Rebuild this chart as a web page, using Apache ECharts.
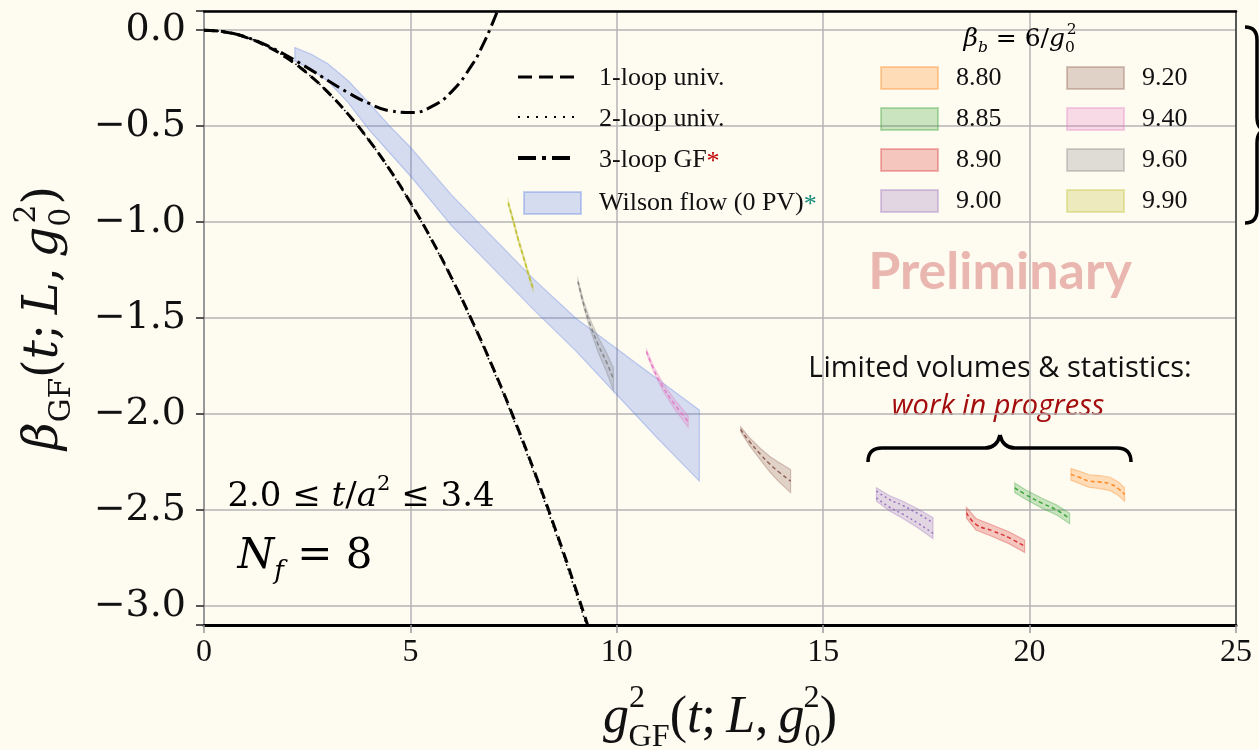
<!DOCTYPE html>
<html><head><meta charset="utf-8">
<script src="https://cdn.jsdelivr.net/npm/echarts@6/dist/echarts.min.js"></script>
<style>html,body{margin:0;padding:0;background:#fefbf1}#c{width:1259px;height:750px}</style>
</head><body><div id="c"></div>
<script>
// ---------- data ----------
const xTicks = [0, 5, 10, 15, 20, 25];
const oneLoop = [[0,0],[0.5,-0.009],[1,-0.036],[1.5,-0.081],[2,-0.144],[2.5,-0.224],[3,-0.323],[3.5,-0.440],[4,-0.574],[4.5,-0.727],[5,-0.898],[5.5,-1.086],[6,-1.292],[6.5,-1.517],[7,-1.759],[7.5,-2.019],[8,-2.298],[8.5,-2.594],[9,-2.908],[9.5,-3.240]];
const twoLoop = [[0,0],[0.5,-0.009],[1,-0.036],[1.5,-0.081],[2,-0.144],[2.5,-0.225],[3,-0.324],[3.5,-0.441],[4,-0.576],[4.5,-0.729],[5,-0.901],[5.5,-1.090],[6,-1.298],[6.5,-1.524],[7,-1.768],[7.5,-2.030],[8,-2.311],[8.5,-2.610],[9,-2.927],[9.5,-3.263]];
const threeLoop = [[0,0],[0.5,-0.009],[1,-0.035],[1.5,-0.077],[2,-0.132],[2.5,-0.195],[3,-0.262],[3.5,-0.327],[4,-0.382],[4.5,-0.420],[5,-0.429],[5.5,-0.400],[6,-0.320],[6.5,-0.178],[6.75,-0.079],[7,0.042],[7.15,0.125]];
const wilsonUpper = [[2.2,-0.09],[2.6,-0.125],[3.0,-0.175],[3.5,-0.265],[4.0,-0.38],[4.5,-0.50],[5.0,-0.61],[5.5,-0.735],[6.0,-0.86],[7.0,-1.08],[8.0,-1.30],[9.0,-1.50],[10.0,-1.66],[11.0,-1.82],[12.0,-1.98]];
const wilsonLower = [[2.2,-0.16],[2.6,-0.205],[3.0,-0.265],[3.5,-0.38],[4.0,-0.52],[4.5,-0.64],[5.0,-0.76],[5.5,-0.89],[6.0,-1.02],[7.0,-1.24],[8.0,-1.46],[9.0,-1.67],[10.0,-1.90],[11.0,-2.13],[12.0,-2.35]];
// [g2, beta, error] per beta_b
const band880 = [[21.0,-2.315,0.030],[21.2,-2.330,0.032],[21.45,-2.350,0.033],[21.7,-2.355,0.034],[21.95,-2.365,0.035],[22.15,-2.390,0.035],[22.3,-2.420,0.035]];
const band885 = [[19.64,-2.385,0.025],[19.9,-2.420,0.025],[20.3,-2.465,0.026],[20.65,-2.500,0.026],[20.97,-2.545,0.027]];
const band890 = [[18.47,-2.515,0.028],[18.7,-2.575,0.030],[19.11,-2.610,0.030],[19.5,-2.645,0.031],[19.88,-2.690,0.032]];
const band900 = [[16.29,-2.420,0.035],[16.6,-2.465,0.040],[16.93,-2.500,0.045],[17.3,-2.545,0.050],[17.66,-2.595,0.055]];
const band920 = [[13.0,-2.080,0.012],[13.2,-2.140,0.020],[13.48,-2.210,0.030],[13.7,-2.260,0.040],[13.91,-2.300,0.050],[14.21,-2.350,0.060]];
const band940 = [[10.72,-1.675,0.010],[10.9,-1.770,0.015],[11.12,-1.860,0.020],[11.4,-1.950,0.025],[11.73,-2.040,0.030]];
const band960 = [[9.06,-1.310,0.010],[9.2,-1.430,0.015],[9.35,-1.530,0.025],[9.55,-1.640,0.040],[9.75,-1.730,0.050],[9.92,-1.820,0.060]];
const band990 = [[7.37,-0.900,0.012],[7.5,-1.000,0.012],[7.61,-1.090,0.012],[7.75,-1.190,0.012],[7.9,-1.300,0.012],[7.97,-1.345,0.012]];
const betaLabels = ['8.80','8.85','8.90','9.00','9.20','9.40','9.60','9.90'];
const bandData = [band880, band885, band890, band900, band920, band940, band960, band990];
// ---------- styles ----------
const bandColors = ['255,127,14','44,160,44','214,39,40','148,103,189','140,86,75','227,119,194','127,127,127','188,189,34'];
const dash1 = [11, 6], dash2 = [1.5, 3], dash3 = [14, 5, 3, 5];

function polySeries(name, upper, lower, fill, stroke, z) {
  return {
    type: 'custom', name: name, z: z,
    data: [[upper[0][0], upper[0][1]]],
    encode: {x: 0, y: 1},
    itemStyle: {color: fill, borderColor: stroke, borderWidth: 1.2},
    renderItem: function (params, api) {
      if (params.dataIndex !== 0) return;
      const pts = upper.map(p => api.coord(p)).concat(lower.slice().reverse().map(p => api.coord(p)));
      return {type: 'polygon', shape: {points: pts}, style: {fill: fill, stroke: stroke, lineWidth: 1.2}};
    }
  };
}

const series = [];
series.push(polySeries('Wilson flow (0 PV)', wilsonUpper, wilsonLower, 'rgba(70,110,230,0.22)', 'rgba(70,110,230,0.30)', 2));
bandData.forEach((b, i) => {
  const c = bandColors[i];
  const up = b.map(r => [r[0], r[1] + r[2]]);
  const lo = b.map(r => [r[0], r[1] - r[2]]);
  series.push(polySeries(betaLabels[i], up, lo, 'rgba(' + c + ',0.25)', 'rgba(' + c + ',0.32)', 3));
  if (i === 3) {
    series.push({type: 'line', name: betaLabels[i] + ' a', z: 4, data: b.map(r => [r[0], r[1] + r[2] * 0.5]), smooth: true, symbol: 'none', lineStyle: {color: 'rgba(' + c + ',0.9)', width: 1.5, type: [2, 3]}});
    series.push({type: 'line', name: betaLabels[i] + ' b', z: 4, data: b.map(r => [r[0], r[1] - r[2] * 0.5]), smooth: true, symbol: 'none', lineStyle: {color: 'rgba(' + c + ',0.9)', width: 1.5, type: [2, 3]}});
  } else {
    series.push({type: 'line', name: betaLabels[i] + ' c', z: 4, data: b.map(r => [r[0], r[1]]), smooth: true, symbol: 'none', lineStyle: {color: 'rgba(' + c + ',0.9)', width: 1.5, type: [4, 3]}});
  }
});
series.push({type: 'line', name: '2-loop univ.', z: 5, data: twoLoop, smooth: true, symbol: 'none', itemStyle: {color: '#000'}, lineStyle: {color: '#000', width: 1.6, type: dash2}});
series.push({type: 'line', name: '1-loop univ.', z: 6, data: oneLoop, smooth: true, symbol: 'none', itemStyle: {color: '#000'}, lineStyle: {color: '#000', width: 3, type: dash1}});
series.push({type: 'line', name: '3-loop GF', z: 6, data: threeLoop, smooth: true, symbol: 'none', itemStyle: {color: '#000'}, lineStyle: {color: '#000', width: 3, type: dash3}});

const serif = 'Liberation Serif';
const cm = 'DejaVu Serif';
const legendText = {
  fontFamily: serif, fontSize: 26, color: '#111', lineHeight: 22, padding: [0, 0, 0, 13],
  rich: {
    r: {fontFamily: serif, fontSize: 26, color: '#c00000', lineHeight: 22, verticalAlign: 'top'},
    t: {fontFamily: serif, fontSize: 26, color: '#138a78', lineHeight: 22, verticalAlign: 'top'}
  }
};
function legendFmt(n) {
  if (n === '3-loop GF') return '3-loop GF{r|*}';
  if (n === 'Wilson flow (0 PV)') return 'Wilson flow (0 PV){t|*}';
  return n;
}
const legendCommon = {orient: 'vertical', top: 60, itemWidth: 57, itemHeight: 22, itemGap: 15, selectedMode: false, textStyle: legendText, formatter: legendFmt};
const hiddenKey = {color: 'rgba(0,0,0,0)', borderWidth: 0, opacity: 0};

const richMath = function (fs, fam) {
  return {
    n: {fontFamily: fam, fontSize: fs, lineHeight: fs * 1.35, color: '#111'},
    i: {fontFamily: fam, fontStyle: 'italic', fontSize: fs, lineHeight: fs * 1.35, color: '#111'},
    s: {fontFamily: fam, fontSize: fs * 0.62, lineHeight: fs * 0.7, verticalAlign: 'bottom', color: '#111'},
    si: {fontFamily: fam, fontStyle: 'italic', fontSize: fs * 0.62, lineHeight: fs * 0.7, verticalAlign: 'bottom', color: '#111'},
    p: {fontFamily: fam, fontSize: fs * 0.62, lineHeight: fs * 0.9, verticalAlign: 'top', color: '#111'},
    q: {fontFamily: fam, fontSize: fs * 0.62, lineHeight: fs * 0.9, verticalAlign: 'top', color: '#111', padding: [0, 0, 0, -fs * 0.33]},
    u: {fontFamily: fam, fontSize: fs * 0.62, lineHeight: fs * 0.7, verticalAlign: 'bottom', color: '#111', padding: [0, 0, 0, -fs * 0.32]}
  };
};

// brace drawing helpers (annotation shapes)
const braceStyle = {stroke: '#000', lineWidth: 3.5, fill: 'none'};
function q(x1, y1, cx, cy, x2, y2) { return {type: 'bezierCurve', z: 50, shape: {x1: x1, y1: y1, cpx1: cx, cpy1: cy, x2: x2, y2: y2}, style: braceStyle}; }
function ln(x1, y1, x2, y2) { return {type: 'line', z: 50, shape: {x1: x1, y1: y1, x2: x2, y2: y2}, style: braceStyle}; }
// legend keys for the line series (drawn next to the legend labels)
function key(y, w, dash) { return {type: 'line', z: 50, shape: {x1: 518, y1: y, x2: 574, y2: y}, style: {stroke: '#000', lineWidth: w, lineDash: dash}}; }

const textCenter = {align: 'center', verticalAlign: 'middle', textAlign: 'center', textVerticalAlign: 'middle'};

const option = {
  backgroundColor: '#fefbf1',
  animation: false,
  grid: {left: 204, right: 23, top: 11, bottom: 125, containLabel: false, outerBoundsMode: 'none'},
  xAxis: [{
    type: 'value', min: 0, max: 25, interval: 5,
    name: '{i|g}{p|2}{u|GF}{n|(}{i|t}{n|;\u2009}{i|L}{n|,\u2009}{i|g}{s|0}{q|2}{n|)}',
    nameLocation: 'middle', nameGap: 58,
    nameTextStyle: {rich: richMath(52, serif)},
    axisLine: {onZero: false, lineStyle: {color: '#000', width: 3}},
    axisTick: {length: 8, lineStyle: {color: '#999', width: 1.5}},
    axisLabel: {fontFamily: serif, fontSize: 32, color: '#111', margin: 12},
    splitLine: {show: true, lineStyle: {color: '#b4b4b4', width: 1.5}}
  }, {
    type: 'value', min: 0, max: 25, position: 'top',
    axisLine: {show: true, onZero: false, lineStyle: {color: '#000', width: 2.5}},
    axisTick: {show: false}, axisLabel: {show: false}, splitLine: {show: false}
  }],
  yAxis: [{
    type: 'value', min: -3.1, max: 0.1, splitNumber: 6,
    name: '{i|β}{s|GF}{n|(}{i|t}{n|;\u2009}{i|L}{n|,\u2009}{i|g}{s|0}{q|2}{n|)}',
    nameLocation: 'middle', nameGap: 127, nameRotate: 90,
    nameTextStyle: {rich: richMath(48, cm)},
    axisLine: {show: true, onZero: false, lineStyle: {color: '#999', width: 2}},
    axisTick: {show: true, length: 8, lineStyle: {color: '#222', width: 1.5}},
    axisLabel: {
      fontFamily: cm, fontSize: 38, color: '#111', margin: 18,
      formatter: function (v) {
        const r = Math.round(v * 2) / 2;
        if (Math.abs(v - r) > 1e-6) return '';
        return (r < 0 ? '\u2212' : '') + Math.abs(r).toFixed(1);
      }
    },
    splitLine: {show: true, lineStyle: {color: '#b4b4b4', width: 1.5}}
  }, {
    type: 'value', min: -3.1, max: 0.1, position: 'right',
    axisLine: {show: true, onZero: false, lineStyle: {color: '#333', width: 1.5}},
    axisTick: {show: false}, axisLabel: {show: false}, splitLine: {show: false}
  }],
  legend: [
    Object.assign({}, legendCommon, {left: 518, data: [
      {name: '1-loop univ.', icon: 'rect', itemStyle: hiddenKey},
      {name: '2-loop univ.', icon: 'rect', itemStyle: hiddenKey},
      {name: '3-loop GF', icon: 'rect', itemStyle: hiddenKey},
      {name: 'Wilson flow (0 PV)', icon: 'rect'}]}),
    Object.assign({}, legendCommon, {left: 875, icon: 'rect', data: betaLabels.slice(0, 4)}),
    Object.assign({}, legendCommon, {left: 1061, icon: 'rect', data: betaLabels.slice(4, 8)})
  ],
  graphic: [
    {type: 'text', z: -1, x: 1000, y: 272, style: Object.assign({text: 'Preliminary', font: 'bold 52px Lato', fill: '#e9b7b0'}, textCenter)},
    {type: 'text', z: -1, x: 1000, y: 369, style: Object.assign({text: 'Limited volumes & statistics:', font: '29px "Open Sans"', fill: '#111'}, textCenter)},
    {type: 'text', z: -1, x: 998, y: 407, style: Object.assign({text: 'work in progress', font: 'italic 29px "Open Sans"', fill: '#a30d0d'}, textCenter)},
    {type: 'text', z: 50, x: 1020, y: 39, style: Object.assign({text: '{i|β}{si|b}{n| = 6/}{i|g}{s|0}{q|2}', rich: richMath(25, cm)}, textCenter)},
    {type: 'text', z: 50, x: 361, y: 497, style: Object.assign({text: '{n|2.0 ≤ }{i|t}{n|/}{i|a}{p|2}{n| ≤ 3.4}', rich: richMath(34, cm)}, textCenter)},
    {type: 'text', z: 50, x: 305, y: 557, style: Object.assign({text: '{i|N}{si|f}{n| = 8}', rich: richMath(42, cm)}, textCenter)},
    key(77, 3, [14, 7]), key(117, 2, [2, 7]), key(158, 4, [18, 6, 4, 6]),
    q(868, 462, 868, 448, 882, 448), ln(882, 448, 985, 448), q(985, 448, 997, 448, 1000, 435),
    q(1000, 435, 1003, 448, 1015, 448), ln(1015, 448, 1117, 448), q(1117, 448, 1131, 448, 1131, 462),
    q(1245, 27, 1257, 27, 1257, 40), ln(1257, 40, 1257, 117), q(1257, 117, 1257, 128, 1264, 130),
    q(1264, 130, 1257, 132, 1257, 143), ln(1257, 143, 1257, 210), q(1257, 210, 1257, 223, 1245, 223)
  ],
  series: series
};
const chart = echarts.init(document.getElementById('c'), null, {renderer: 'canvas'});
chart.setOption(option);
</script>
</body></html>
